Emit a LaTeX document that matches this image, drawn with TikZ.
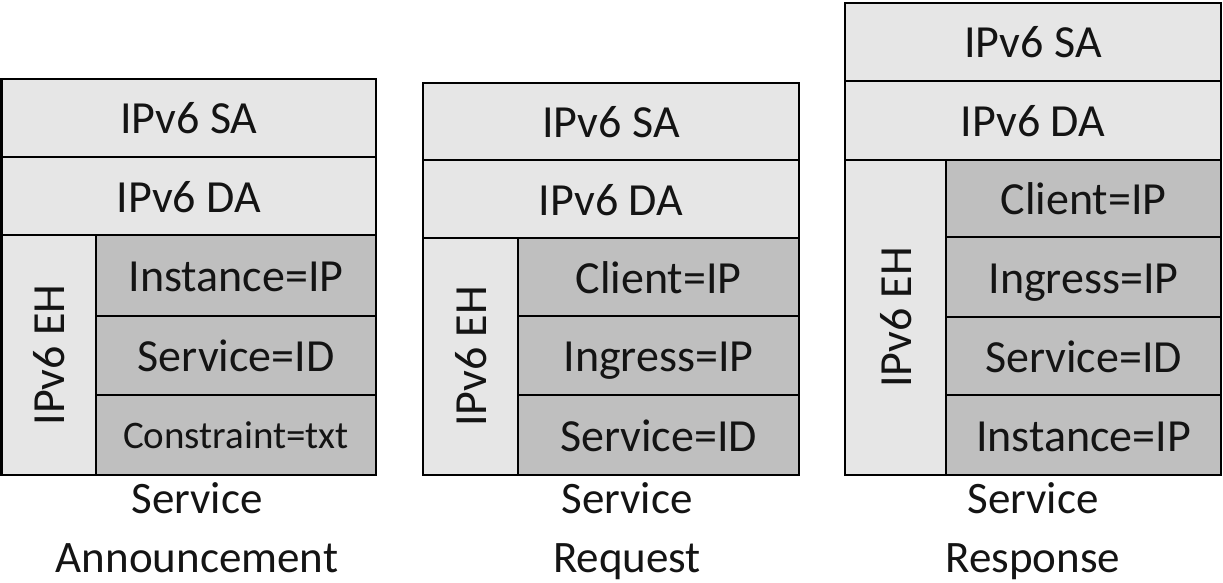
\documentclass[tikz,border=0pt]{standalone}
\usepackage{fontspec}
\setmainfont{Carlito}
\definecolor{lite}{RGB}{230,230,230}
\definecolor{dark}{RGB}{191,191,191}
\definecolor{ink}{RGB}{20,20,20}
\tikzset{
  cell/.style={draw=black, line width=2.2pt, inner sep=0pt, outer sep=0pt, anchor=north west,
    text=ink, font=\fontsize{46}{50}\selectfont, text height=32pt, text depth=0pt},
  hdr/.style={cell, fill=lite},
  fld/.style={cell, fill=dark},
  ehcol/.style={cell, fill=lite},
  vlabel/.style={rotate=90, text=ink, font=\fontsize{46}{50}\selectfont, text height=32pt, text depth=0pt, inner sep=0pt},
  caption/.style={anchor=base, align=center, text=ink, font=\fontsize{45}{59}\selectfont, inner sep=0pt}
}
\begin{document}
\begin{tikzpicture}[x=1pt,y=-1pt]
\useasboundingbox (0,0) rectangle (1223,583);
% ---------- Service Announcement ----------
\node[hdr, minimum width=374.5pt, minimum height=78pt] (Lsa) at (1.5,79) {IPv6 SA};
\node[hdr, minimum width=374.5pt, minimum height=78pt] (Lda) at (1.5,157) {IPv6 DA};
\node[ehcol, minimum width=94.5pt, minimum height=240pt] (Leh) at (1.5,235) {};
\node[vlabel] (Lehl) at (Leh.center) {IPv6 EH};
\node[fld, minimum width=280pt, minimum height=81pt] (Lf1) at (96,235) {Instance=IP};
\node[fld, minimum width=280pt, minimum height=79pt] (Lf2) at (96,316) {Service=ID};
\node[fld, minimum width=280pt, minimum height=80pt, font=\fontsize{39}{44}\selectfont, text height=27pt] (Lf3) at (96,395) {Constraint=txt};
\node[caption] (Lcap) at (197,572) {Service\\Announcement};
% ---------- Service Request ----------
\node[hdr, minimum width=376pt, minimum height=77pt] (Msa) at (423,83) {IPv6 SA};
\node[hdr, minimum width=376pt, minimum height=78pt] (Mda) at (423,160) {IPv6 DA};
\node[ehcol, minimum width=95pt, minimum height=237pt] (Meh) at (423,238) {};
\node[vlabel] (Mehl) at (Meh.center) {IPv6 EH};
\node[fld, minimum width=281pt, minimum height=78pt] (Mf1) at (518,238) {Client=IP};
\node[fld, minimum width=281pt, minimum height=79pt] (Mf2) at (518,316) {Ingress=IP};
\node[fld, minimum width=281pt, minimum height=80pt] (Mf3) at (518,395) {Service=ID};
\node[caption] (Mcap) at (627,572) {Service\\Request};
% ---------- Service Response ----------
\node[hdr, minimum width=376pt, minimum height=78pt] (Rsa) at (845,3) {IPv6 SA};
\node[hdr, minimum width=376pt, minimum height=79pt] (Rda) at (845,81) {IPv6 DA};
\node[ehcol, minimum width=101pt, minimum height=315pt] (Reh) at (845,160) {};
\node[vlabel] (Rehl) at (Reh.center) {IPv6 EH};
\node[fld, minimum width=275pt, minimum height=77pt] (Rf1) at (946,160) {Client=IP};
\node[fld, minimum width=275pt, minimum height=80pt] (Rf2) at (946,237) {Ingress=IP};
\node[fld, minimum width=275pt, minimum height=78pt] (Rf3) at (946,317) {Service=ID};
\node[fld, minimum width=275pt, minimum height=80pt] (Rf4) at (946,395) {Instance=IP};
\node[caption] (Rcap) at (1033,572) {Service\\Response};
\end{tikzpicture}
\end{document}
